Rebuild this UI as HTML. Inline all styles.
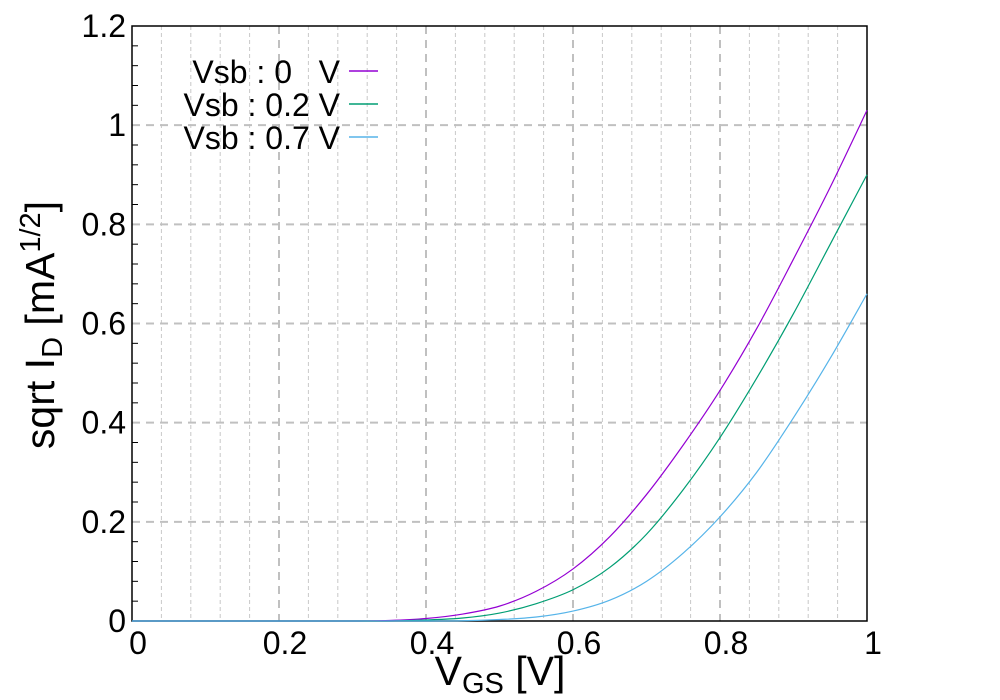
<!DOCTYPE html>
<html><head><meta charset="utf-8"><style>body{margin:0;background:#fff}svg{display:block;font-family:"Liberation Sans",sans-serif}</style></head>
<body>
<svg id="c" width="1000" height="700"></svg>
<script>
const xs=[0,0.05,0.1,0.15,0.2,0.25,0.3,0.35,0.4,0.45,0.5,0.55,0.6,0.65,0.7,0.75,0.8,0.85,0.9,0.95,1.0];
const s0=[0,0,0,0,0,0,0,0.001,0.005,0.014,0.03,0.06,0.105,0.17,0.255,0.355,0.465,0.59,0.73,0.875,1.03];
const s2=[0,0,0,0,0,0,0,0,0.002,0.006,0.016,0.035,0.063,0.108,0.175,0.265,0.37,0.49,0.62,0.76,0.90];
const s7=[0,0,0,0,0,0,0,0,0,0.0005,0.003,0.008,0.02,0.042,0.08,0.137,0.21,0.30,0.41,0.53,0.66];
const xTicks=[0,0.2,0.4,0.6,0.8,1];
const xTickLabels=["0","0.2","0.4","0.6","0.8","1"];
const yTicks=[0,0.2,0.4,0.6,0.8,1,1.2];
const yTickLabels=["0","0.2","0.4","0.6","0.8","1","1.2"];
const seriesNames=["Vsb : 0   V","Vsb : 0.2 V","Vsb : 0.7 V"];
const L=132,R=867,T=26,B=621;
const X=v=>L+v*(R-L), Y=v=>B-v/1.2*(B-T);
const svg=document.getElementById('c');const NS='http://www.w3.org/2000/svg';
function el(t,a,p){const e=document.createElementNS(NS,t);for(const k in a)e.setAttribute(k,a[k]);(p||svg).appendChild(e);return e;}
const g=el('g',{});


for(let i=1;i<25;i++){const v=i*0.04,x=X(v);const maj=i%5==0;
 el('line',{x1:x,x2:x,y1:T,y2:B,stroke:maj?'#c0c0c0':'#c8c8c8','stroke-width':maj?2:1,'stroke-dasharray':maj?'8,6':'4,3'},g);}
for(let i=1;i<6;i++){const y=Y(i*0.2);el('line',{x1:L,x2:R,y1:y,y2:y,stroke:'#c0c0c0','stroke-width':2,'stroke-dasharray':'8,6'},g);}
for(let i=1;i<30;i++){if(i%5==0)continue;const y=Y(i*0.04);el('line',{x1:L,x2:L+6,y1:y,y2:y,stroke:'#000'},g);}
const ax=el('rect',{x:L,y:T,width:R-L,height:B-T,fill:'none',stroke:'#000','stroke-width':1.5});


xTicks.forEach((v,i)=>{const t=el('text',{x:X(v)+6,y:654,'font-size':32,'text-anchor':'middle'});t.textContent=xTickLabels[i];

});
yTicks.forEach((v,i)=>{const t=el('text',{x:L-6,y:Y(v)+11,'font-size':32,'text-anchor':'end'});t.textContent=yTickLabels[i];

});
const xt=el('text',{x:500,y:685,'font-size':41,'text-anchor':'middle'});xt.innerHTML='V<tspan font-size="29" dy="8">GS</tspan><tspan dy="-8"> [V]</tspan>';


const yt=el('text',{x:0,y:0,'font-size':41,'text-anchor':'middle',transform:'translate(54,325) rotate(-90)'});yt.innerHTML='sqrt I<tspan font-size="29" dy="8">D</tspan><tspan dy="-8"> [mA</tspan><tspan font-size="29" dy="-14">1/2</tspan><tspan dy="14">]</tspan>';


const colors=['#9400d3','#009e73','#56b4e9'];
[s0,s2,s7].forEach((s,k)=>{const p=xs.map((x,i)=>[X(x),Y(s[i])]);let d='M'+p[0];
 for(let i=0;i<p.length-1;i++){const a=p[Math.max(0,i-1)],b=p[i],c=p[i+1],e=p[Math.min(p.length-1,i+2)];
  d+=`C${b[0]+(c[0]-a[0])/6},${b[1]+(c[1]-a[1])/6} ${c[0]-(e[0]-b[0])/6},${c[1]-(e[1]-b[1])/6} ${c[0]},${c[1]}`;}
 const pa=el('path',{d:d,fill:'none',stroke:colors[k],'stroke-width':1.2});
 
 
 const ly=71+k*33;
 const lt=el('text',{x:340,y:ly+12,'font-size':32,'text-anchor':'end'});lt.textContent=seriesNames[k];lt.style.whiteSpace='pre';
 
 
 const ll=el('line',{x1:349,x2:378,y1:ly,y2:ly,stroke:colors[k],'stroke-width':1.5});
 
 
});
</script>
</body></html>
